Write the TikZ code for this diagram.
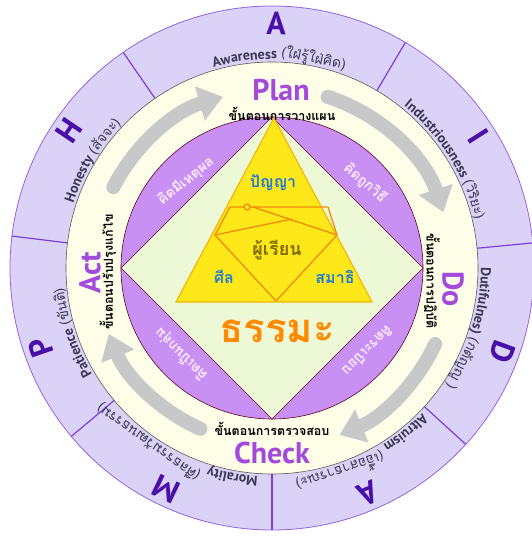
\documentclass[tikz,border=0pt]{standalone}
\usepackage{fontspec}
\setmainfont{PT Sans}
\newfontfamily\thf[Script=Thai]{Loma}
\usetikzlibrary{decorations.text,arrows.meta}
\definecolor{lav}{HTML}{DAD2F7}
\definecolor{lavline}{HTML}{7A3FD6}
\definecolor{cream}{HTML}{FDFDE8}
\definecolor{deeppurple}{HTML}{4A0FA8}
\definecolor{pdca}{HTML}{A349DC}
\definecolor{segl}{HTML}{C890F2}
\definecolor{segd}{HTML}{AC58E3}
\definecolor{diam}{HTML}{EDF9D6}
\definecolor{tri}{HTML}{FFE81A}
\definecolor{triline}{HTML}{F2B705}
\definecolor{orline}{HTML}{F08A0A}
\definecolor{thblue}{HTML}{1F7BD4}
\definecolor{olive}{HTML}{7D6A00}
\definecolor{dhamma}{HTML}{FF8A00}
\definecolor{arrowgrey}{HTML}{C8C8C8}
\definecolor{ringtext}{HTML}{3A3852}
\definecolor{seglabel}{HTML}{FCEBFF}
\pgfdeclareradialshading{segshade}{\pgfpoint{0bp}{0bp}}{color(0bp)=(segl); color(35bp)=(segl); color(42bp)=(segd); color(50bp)=(segd)}
\newcommand\ringfont{\bfseries\fontsize{14}{14}\selectfont}
\newcommand\thringfont{\thf\fontsize{14}{14}\selectfont}
\newcommand\ringlabel[2]{\path[decorate,decoration={text along path, text align=center, text color=ringtext, text={#2}}] ({#1+50}:209) arc[start angle={#1+50}, end angle={#1-50}, radius=209];}
\tikzset{
 bigletter/.style={font=\bfseries\fontsize{32}{32}\selectfont, text=deeppurple, inner sep=0},
 pdcalbl/.style={font=\bfseries\fontsize{30}{30}\selectfont, text=pdca, inner sep=0},
 stepth/.style={font=\thf\bfseries\fontsize{12.5}{12.5}\selectfont, text=black, inner sep=0},
 seglbl/.style={font=\thf\bfseries\fontsize{14}{14}\selectfont, text=seglabel, inner sep=0},
 trith/.style={font=\thf\bfseries\fontsize{16}{16}\selectfont, text=thblue, inner sep=0},
 cyclearrow/.style={draw=arrowgrey, line width=14pt, line cap=round, -{Triangle[width=34pt,length=24pt]}},
}
\begin{document}
\begin{tikzpicture}[x=1pt,y=1pt]
\useasboundingbox (-272,-268) rectangle (259,268);
\fill[white] (-272,-268) rectangle (259,268);
% outer ring
\fill[lav] (0,0) circle (262);
\draw[lavline!80, line width=0.8pt] (0,0) circle (262);
\foreach \a in {5.5,59.4,124.6,173,220,270,317.7}
  \draw[lavline, line width=1.2pt] (\a:206) -- (\a:262);
% cream ring
\fill[cream] (0,0) circle (206);
\draw[black!65, line width=0.6pt] (0,0) circle (206);
% grey cycle arrows
\draw[cyclearrow] (153:178) arc[start angle=153, end angle=106, radius=178];
\draw[cyclearrow] (72:180) arc[start angle=72, end angle=18, radius=180];
\draw[cyclearrow] (-25:180) arc[start angle=-25, end angle=-68, radius=180];
\draw[cyclearrow] (246:176) arc[start angle=246, end angle=202, radius=176];
% purple disc
\shade[shading=segshade] (0,0) circle (151);
\draw[black!50!purple, line width=0.6pt] (0,0) circle (151);
% diamond
\filldraw[fill=diam, draw=black!50!purple, line width=0.5pt] (90:151) -- (0:151) -- (-90:151) -- (180:151) -- cycle;
% triangle
\filldraw[fill=tri, draw=triline, line width=1.2pt, line join=round] (2,150) -- (100,-34) -- (-96,-34) -- cycle;
% orange figure
\draw[orline, line width=1.3pt, line join=round] (-42,61) -- (56,61) -- (65,33) -- (4,-33) -- (-57,33) -- cycle;
\draw[orline, line width=1.3pt] (-19,61) -- (65,33);
\draw[orline, line width=1.3pt] (-57,33) -- (20,49);
\filldraw[fill=tri, draw=orline, line width=1.2pt] (-25,61) circle (3);
% triangle texts
\node[trith] (panya) at (1,85) {ปัญญา};
\node[font=\thf\bfseries\fontsize{18}{18}\selectfont, text=olive, inner sep=0] (learner) at (5,18) {ผู้เรียน};
\node[trith] (sila) at (-48,-9) {ศีล};
\node[trith] (samadhi) at (63,-9) {สมาธิ};
\node[font=\thf\bfseries\fontsize{40}{40}\selectfont, text=dhamma, inner sep=0] (dhamma) at (5,-63) {ธรรมะ};
% segment labels
\node[seglbl, rotate=39] (s1) at (-86,87) {คิดมีเหตุผล};
\node[seglbl, rotate=-41] (s2) at (93,85) {คิดถูกวิธี};
\node[seglbl, rotate=225] (s3) at (96,-83) {คิดระเบียบ};
\node[seglbl, rotate=135] (s4) at (-91,-86) {คิดเป็นกลุ่ม};
% PDCA
\node[pdcalbl] (plan) at (9,178) {Plan};
\node[stepth] (planth) at (10,154) {ขั้นตอนการวางแผน};
\node[pdcalbl, rotate=-90] (do) at (181,-21) {Do};
\node[stepth, rotate=-90] (doth) at (160,-13) {ขั้นตอนการปฏิบัติ};
\node[pdcalbl] (check) at (0,-185) {Check};
\node[stepth] (checkth) at (0,-161) {ขั้นตอนการตรวจสอบ};
\node[pdcalbl, rotate=90] (act) at (-182,-5) {Act};
\node[stepth, rotate=90] (actth) at (-164,-4) {ขั้นตอนปรับปรุงแก้ไข};
% big letters
\foreach \a/\l in {89/A,32.5/I,-20/D,-67/A,244.5/M,199/P,146/H}
  \node[bigletter, rotate=\a-90] at (\a:245) {\l};
% ring labels
\ringlabel{88}{|\ringfont|Awareness |\thringfont|{(ใฝ่รู้ใฝ่คิด)}}
\ringlabel{32}{|\ringfont|Industriousness |\thringfont|{(วิริยะ)}}
\ringlabel{-17}{|\ringfont|Dutifulnes) |\thringfont|{(กตัญญู )}}
\ringlabel{-64}{|\ringfont|Altruism |\thringfont|{(เอื้อสาธารณะ)}}
\ringlabel{242}{|\ringfont|Morality |\thringfont|{(ศีลธรรมวัฒนธรรม)}}
\ringlabel{198}{|\ringfont|Patience |\thringfont|{(ขันติ)}}
\ringlabel{149}{|\ringfont|Honesty |\thringfont|{(สัจจะ)}}
\end{tikzpicture}
\end{document}
